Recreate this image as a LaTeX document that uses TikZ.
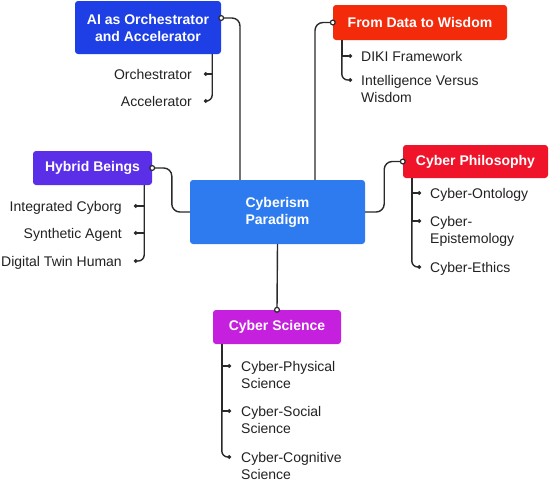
\documentclass[tikz,border=0pt]{standalone}
\usepackage{fontspec}
\setmainfont{Liberation Sans}
\usetikzlibrary{arrows.meta,calc}
\definecolor{cblue}{HTML}{2E7BF0}
\definecolor{aiblue}{HTML}{1F3FE6}
\definecolor{datared}{HTML}{F42B0B}
\definecolor{hybpurple}{HTML}{5B2EE8}
\definecolor{philred}{HTML}{F0142A}
\definecolor{scimag}{HTML}{C420DD}
\definecolor{linegray}{HTML}{2A2A2A}
\definecolor{leafgray}{HTML}{222222}
\tikzset{
  box/.style={rounded corners=3pt, text=white, font=\fontsize{14}{17}\selectfont\bfseries, align=center, inner sep=0pt},
  leaf/.style={text=leafgray, font=\fontsize{14}{17}\selectfont, inner ysep=0pt},
  lleaf/.style={leaf, anchor=north east, align=right, inner xsep=12pt},
  rleaf/.style={leaf, anchor=north west, align=left, inner xsep=9pt},
  conn/.style={draw=linegray, line width=1.4pt, rounded corners=8pt, shorten >=-3pt, -{Circle[length=6pt, fill=white, line width=1.2pt]}},
  sub/.style={draw=linegray, line width=1.4pt, -{Circle[length=3.5pt]}},
  sublast/.style={sub, rounded corners=6pt},
}
\begin{document}
\begin{tikzpicture}[x=1pt,y=-1pt]
\useasboundingbox (0,0) rectangle (550,483);
\fill[white] (0,0) rectangle (550,483);

% main boxes
\node[box, fill=cblue, minimum width=175pt, minimum height=64pt] (ctr) at (277.5,212) {Cyberism\\Paradigm};
\node[box, fill=aiblue, minimum width=146pt, minimum height=53pt] (ai) at (148,27.5) {AI as Orchestrator\\and Accelerator};
\node[box, fill=datared, minimum width=174pt, minimum height=35pt] (data) at (420,22.5) {From Data to Wisdom};
\node[box, fill=hybpurple, minimum width=119pt, minimum height=34pt] (hyb) at (92.5,168) {Hybrid Beings};
\node[box, fill=philred, minimum width=145pt, minimum height=33pt] (phil) at (475.5,161.5) {Cyber Philosophy};
\node[box, fill=scimag, minimum width=128pt, minimum height=34pt] (sci) at (277,327) {Cyber Science};

% connectors to center
\draw[conn] ([xshift=-37.5pt]ctr.north) |- ([yshift=9.5pt]ai.east);
\draw[conn] ([xshift=37.5pt]ctr.north) |- (data.west);
\draw[conn] (ctr.west) -- ++(-18,0) |- (hyb.east);
\draw[conn] (ctr.east) -- ++(19,0) |- (phil.west);
\draw[conn] (ctr.south) -- (sci.north);

% leaves: AI
\node[lleaf] (orch) at (204,69) {Orchestrator};
\node[lleaf] (acc) at (204,96) {Accelerator};
\draw[sub] ([xshift=-9pt]ai.south east) |- ([yshift=-5pt]orch.north east);
\draw[sublast] ([xshift=-9pt]ai.south east) |- ([yshift=-5pt]acc.north east);

% leaves: Data
\node[rleaf] (diki) at (352,51) {DIKI Framework};
\node[rleaf] (ivw) at (352,75) {Intelligence Versus\\Wisdom};
\draw[sub] ([xshift=9pt]data.south west) |- ([yshift=-5pt]diki.north west);
\draw[sublast] ([xshift=9pt]data.south west) |- ([yshift=-5pt]ivw.north west);

% leaves: Hybrid
\node[lleaf] (icy) at (134,201) {Integrated Cyborg};
\node[lleaf] (sag) at (134,228) {Synthetic Agent};
\node[lleaf] (dth) at (134,256) {Digital Twin Human};
\draw[sub] ([xshift=-8pt]hyb.south east) |- ([yshift=-5pt]icy.north east);
\draw[sub] ([xshift=-8pt]hyb.south east) |- ([yshift=-5pt]sag.north east);
\draw[sublast] ([xshift=-8pt]hyb.south east) |- ([yshift=-5pt]dth.north east);

% leaves: Philosophy
\node[rleaf] (ont) at (421,188) {Cyber-Ontology};
\node[rleaf] (epi) at (421,216) {Cyber-\\Epistemology};
\node[rleaf] (eth) at (421,262) {Cyber-Ethics};
\draw[sub] ([xshift=9pt]phil.south west) |- ([yshift=-5pt]ont.north west);
\draw[sub] ([xshift=9pt]phil.south west) |- ([yshift=-5pt]epi.north west);
\draw[sublast] ([xshift=9pt]phil.south west) |- ([yshift=-5pt]eth.north west);

% leaves: Science
\node[rleaf, inner xsep=10pt] (cps) at (231,361) {Cyber-Physical\\Science};
\node[rleaf, inner xsep=10pt] (css) at (231,406) {Cyber-Social\\Science};
\node[rleaf, inner xsep=10pt] (ccs) at (231,452) {Cyber-Cognitive\\Science};
\draw[sub] ([xshift=9pt]sci.south west) |- ([yshift=-5pt]cps.north west);
\draw[sub] ([xshift=9pt]sci.south west) |- ([yshift=-5pt]css.north west);
\draw[sublast] ([xshift=9pt]sci.south west) |- ([yshift=-5pt]ccs.north west);
\end{tikzpicture}
\end{document}
